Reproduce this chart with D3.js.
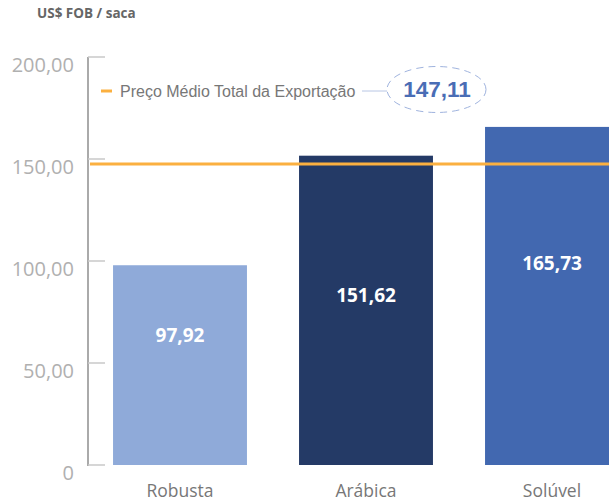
<!DOCTYPE html>
<html><head><meta charset="utf-8">
<script src="https://cdn.jsdelivr.net/npm/d3@7"></script>
<style>html,body{margin:0;padding:0;background:#fff;overflow:hidden}</style>
</head><body>
<svg id="c" width="609" height="501"></svg>
<script>
const categories = ["Robusta", "Arábica", "Solúvel"];
const values = [97.92, 151.62, 165.73];
const valueLabels = ["97,92", "151,62", "165,73"];
const barColors = ["#8faad9", "#243a66", "#4268b0"];
const tickValues = [0, 50, 100, 150, 200];
const tickLabels = ["0", "50,00", "100,00", "150,00", "200,00"];
const avgValue = 147.11;
const avgLabel = "147,11";
const legendText = "Preço Médio Total da Exportação";
const yTitle = "US$ FOB / saca";

const svg = d3.select("#c");
const y = d3.scaleLinear().domain([0, 200]).range([465, 57]);
const x = d3.scaleBand().domain(categories).range([87, 645]).paddingInner(0.28).paddingOuter(0.14);

// title
svg.append("text").attr("x", 37).attr("y", 18).text(yTitle)
  .attr("font-family", "Open Sans").attr("font-weight", "bold").attr("font-size", 13.5).attr("fill", "#666");

// y axis line
svg.append("line").attr("x1", 88).attr("x2", 88).attr("y1", y(200)).attr("y2", y(0) + 1)
  .attr("stroke", "#aaa").attr("stroke-width", 2);
// ticks
svg.selectAll(".tk").data(tickValues).enter().append("line")
  .attr("x1", 88).attr("x2", 105).attr("y1", d => y(d)).attr("y2", d => y(d))
  .attr("stroke", "#c8c8c8").attr("stroke-width", 1.5);
svg.selectAll(".tl").data(tickValues).enter().append("text")
  .attr("x", 74).attr("y", d => y(d) + 15).attr("text-anchor", "end")
  .attr("font-family", "Open Sans").attr("font-size", 20).attr("fill", "#b0b0b0")
  .text((d, i) => tickLabels[i]);

// bars
svg.selectAll(".bar").data(values).enter().append("rect")
  .attr("x", (d, i) => x(categories[i])).attr("width", x.bandwidth())
  .attr("y", d => y(d)).attr("height", d => y(0) - y(d))
  .attr("fill", (d, i) => barColors[i]);

// value labels
const labelFrac = [0.385, 0.473, 0.423];
svg.selectAll(".vl").data(values).enter().append("text")
  .attr("x", (d, i) => x(categories[i]) + x.bandwidth() / 2)
  .attr("y", (d, i) => y(d) + (y(0) - y(d)) * labelFrac[i])
  .attr("text-anchor", "middle").attr("font-family", "Open Sans").attr("font-weight", "bold")
  .attr("font-size", 19).attr("fill", "#fff").text((d, i) => valueLabels[i]);

// category labels
svg.selectAll(".cl").data(categories).enter().append("text")
  .attr("x", d => x(d) + x.bandwidth() / 2).attr("y", 497).attr("text-anchor", "middle")
  .attr("font-family", "Open Sans").attr("font-size", 17.5).attr("fill", "#777").text(d => d);

// average line
svg.append("line").attr("x1", 90).attr("x2", 609).attr("y1", y(avgValue) - 1).attr("y2", y(avgValue) - 1)
  .attr("stroke", "#fbb040").attr("stroke-width", 3);

// legend
svg.append("line").attr("x1", 101).attr("x2", 112).attr("y1", 91).attr("y2", 91)
  .attr("stroke", "#fbb040").attr("stroke-width", 3);
svg.append("text").attr("x", 120).attr("y", 96.5).text(legendText)
  .attr("font-family", "Liberation Sans").attr("font-size", 16).attr("fill", "#777");
svg.append("line").attr("x1", 362).attr("x2", 387).attr("y1", 91).attr("y2", 91)
  .attr("stroke", "#b8c6e4").attr("stroke-width", 1);
svg.append("ellipse").attr("cx", 436.5).attr("cy", 89.5).attr("rx", 49.5).attr("ry", 23)
  .attr("fill", "none").attr("stroke", "#9fb3de").attr("stroke-width", 1).attr("stroke-dasharray", "7,5");
svg.append("text").attr("x", 437).attr("y", 97).attr("text-anchor", "middle").text(avgLabel)
  .attr("font-family", "Liberation Sans").attr("font-weight", "bold").attr("font-size", 22.5).attr("fill", "#4a6db5");
</script>
</body></html>
